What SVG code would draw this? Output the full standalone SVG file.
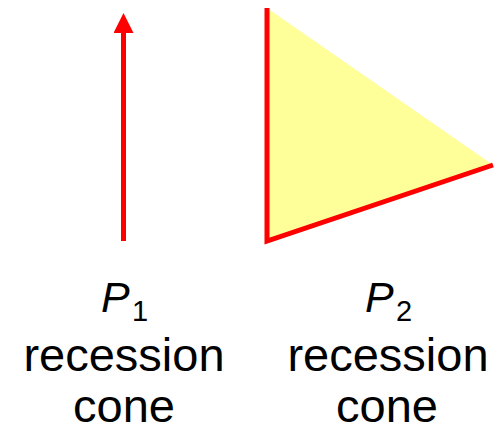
<svg xmlns="http://www.w3.org/2000/svg" width="500" height="433" viewBox="0 0 500 433">
<style>
text{font-family:"Liberation Sans",Arial,sans-serif;fill:#000;}
.lbl{font-size:47px;text-anchor:middle;}
.p{font-size:43px;font-style:italic;}
.sub{font-size:29px;}
.edge{stroke:#ff0000;stroke-width:5;fill:none;}
</style>
<defs>
<marker id="ah" markerUnits="userSpaceOnUse" markerWidth="20" markerHeight="20" refX="0" refY="9" orient="auto" viewBox="0 0 18 18">
<path d="M0,0 L18,9 L0,18 Z" fill="#ff0000"/>
</marker>
</defs>
<g id="cone2">
<polygon points="267,8 493,165 267,241" fill="#ffff99"/>
<path class="edge" d="M267,8 L267,241 L493,165"/>
</g>
<g id="connectors">
<line class="edge" x1="123.5" y1="241" x2="123.5" y2="33" marker-end="url(#ah)"/>
</g>
<g id="label1">
<text x="101" y="312" class="p">P</text><text x="132" y="321" class="sub">1</text>
<text x="124" y="371" class="lbl">recession</text>
<text x="124" y="422" class="lbl">cone</text>
</g>
<g id="label2">
<text x="365" y="312" class="p">P</text><text x="396" y="321" class="sub">2</text>
<text x="388" y="371" class="lbl">recession</text>
<text x="387" y="422" class="lbl">cone</text>
</g>
</svg>
